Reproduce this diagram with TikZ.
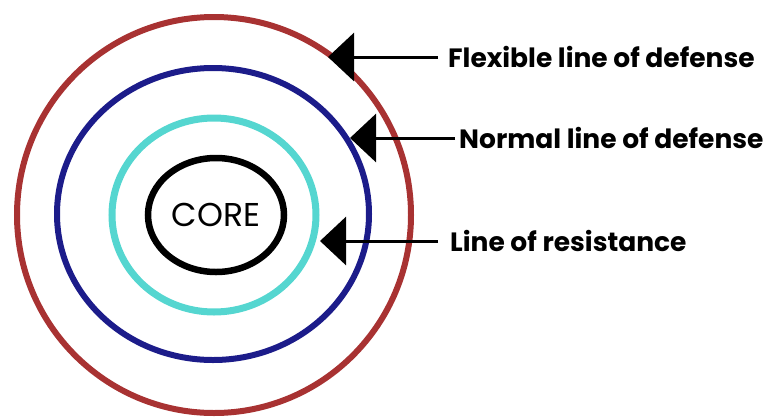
\documentclass[tikz,border=0pt]{standalone}
\usepackage{fontspec}
\setmainfont{Poppins}
\usepackage{tikz}
\usetikzlibrary{arrows.meta,positioning,shapes.geometric}
\definecolor{RingRed}{HTML}{A83232}
\definecolor{RingBlue}{HTML}{1C1C8A}
\definecolor{RingCyan}{HTML}{55D6D0}

\tikzset{
  ring/.style={line width=6pt},
  linetext/.style={anchor=west, inner sep=0pt, font=\fontsize{26.5}{30}\selectfont\bfseries},
  pointer/.style={line width=3pt, -{Triangle[length=26pt,width=48pt]}}
}

\begin{document}
\begin{tikzpicture}[x=1pt,y=-1pt]
    \useasboundingbox (0,0) rectangle (769,416);
    % rings
    \draw[ring, RingRed] (214,215) ellipse [x radius=197, y radius=198];
    \draw[ring, RingBlue] (213,214) ellipse [x radius=156, y radius=146];
    \draw[ring, RingCyan, line width=7pt] (214,215) ellipse [x radius=102, y radius=97];
    \node[draw, line width=6.5pt, ellipse, minimum width=136pt, minimum height=114pt,
          inner sep=0pt, font=\fontsize{33}{36}\selectfont] (core) at (216,215) {CORE};
    % labels
    \node[linetext] (flexible) at (448,57) {Flexible line of defense};
    \node[linetext] (normal) at (459,138) {Normal line of defense};
    \node[linetext] (resistance) at (450,241) {Line of resistance};
    \coordinate (tipflex) at (328,57);
    \coordinate (tipnorm) at (350,138);
    \coordinate (tipres) at (320,241);
    \draw[pointer] ([xshift=-10pt]flexible.west) -- (tipflex);
    \draw[pointer] ([xshift=-4pt]normal.west) -- (tipnorm);
    \draw[pointer] ([xshift=-12pt]resistance.west) -- (tipres);
\end{tikzpicture}
\end{document}
